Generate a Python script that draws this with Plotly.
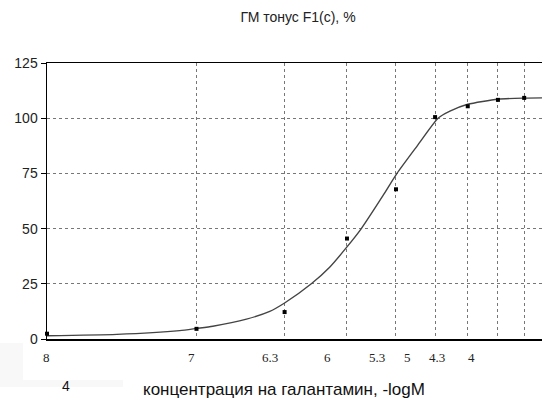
import plotly.graph_objects as go

# x positions are in relative axis units (0 = left edge of plot, 100 = right edge)
point_x = [0, 30.2, 48.0, 60.6, 70.5, 78.4, 85.0, 91.1, 96.4]
point_y = [2.4, 4.6, 12.2, 45.5, 67.8, 100.5, 105.4, 108.3, 109.2]

curve_x = [0, 14.1, 26.8, 30.2, 33.5, 40.3, 45.0, 48.0, 53.4, 57.1, 60.6, 63.5,
           67.9, 70.7, 74.8, 79.0, 81.4, 85.0, 91.1, 96.4, 100]
curve_y = [1.5, 2.1, 3.8, 4.8, 5.8, 9.0, 12.5, 16.3, 25.0, 32.5, 41.7, 50.0,
           65.0, 75.0, 87.5, 100.0, 103.2, 106.3, 108.6, 109.1, 109.2]

label_x = [-1.3, 28.0, 45.0, 56.7, 66.6, 73.9, 80.8, 86.9]
label_text = ["8", "7", "6.3", "6", "5.3", "5", "4.3", "4"]

y_ticks = [0, 25, 50, 75, 100, 125]

title_text = "ГМ тонус F1(c), %"
x_title = "концентрация на галантамин, -logM"

X_RANGE = [0, 100]

fig = go.Figure()
fig.add_trace(go.Scatter(x=curve_x, y=curve_y, mode="lines",
                         line=dict(color="#444444", width=1.4, shape="spline", smoothing=0.6),
                         hoverinfo="skip", showlegend=False))
fig.add_trace(go.Scatter(x=point_x, y=point_y, mode="markers",
                         marker=dict(symbol="square", size=4, color="black"),
                         showlegend=False, cliponaxis=False))


def to_paper(v):
    return (v - X_RANGE[0]) / (X_RANGE[1] - X_RANGE[0])


annotations = []
for lx, lt in zip(label_x, label_text):
    annotations.append(dict(x=to_paper(lx), xref="paper", y=0, yref="paper", yanchor="middle",
                            yshift=-18, text=lt, showarrow=False,
                            font=dict(family="Liberation Serif", size=13, color="#222")))
annotations.append(dict(x=(60 - 47) / 495, xref="paper", y=0, yref="paper",
                        yanchor="middle", yshift=-47, text="4", showarrow=False,
                        font=dict(family="Liberation Sans", size=14, color="#111")))
annotations.append(dict(x=(284 - 47) / 495, xref="paper", y=0, yref="paper",
                        yanchor="middle", yshift=-50, text=x_title, showarrow=False,
                        font=dict(family="Liberation Sans", size=17, color="#111")))

shapes = [
    dict(type="rect", xref="paper", yref="paper", x0=-47 / 495, x1=(23 - 47) / 495,
         y0=(339 - 380) / 276, y1=(339 - 343) / 276, fillcolor="#f8f8f8",
         line=dict(width=0), layer="below"),
    dict(type="rect", xref="paper", yref="paper", x0=-47 / 495, x1=(123 - 47) / 495,
         y0=(339 - 387) / 276, y1=(339 - 380) / 276, fillcolor="#f8f8f8",
         line=dict(width=0), layer="below"),
]

fig.update_layout(
    width=542, height=409,
    margin=dict(l=47, r=0, t=63, b=70, autoexpand=False),
    paper_bgcolor="white", plot_bgcolor="white",
    font=dict(family="Liberation Sans", size=12, color="#222"),
    title=dict(text=title_text, x=298 / 542, y=1 - 17 / 409, xanchor="center",
               yanchor="middle", font=dict(family="Liberation Sans", size=14, color="#222")),
    xaxis=dict(range=X_RANGE, tickvals=point_x[1:], showticklabels=False, ticks="",
               showgrid=True, gridcolor="#777777", griddash="dot", gridwidth=1,
               showline=True, linecolor="black", linewidth=1.5, mirror=True,
               zeroline=False, fixedrange=True, automargin=False),
    yaxis=dict(range=[0, 125], tickvals=y_ticks, ticks="outside", ticklen=5,
               tickcolor="black", showgrid=True, gridcolor="#777777", griddash="dot",
               gridwidth=1, showline=True, linecolor="black", linewidth=1.5,
               zeroline=False, tickfont=dict(family="Liberation Sans", size=14, color="#222"),
               fixedrange=True, automargin=False),
    annotations=annotations,
    shapes=shapes,
)

fig.write_html("out.html",
               config={"displayModeBar": False, "staticPlot": True},
               post_script="document.body.style.margin='0';document.body.style.padding='0';")
